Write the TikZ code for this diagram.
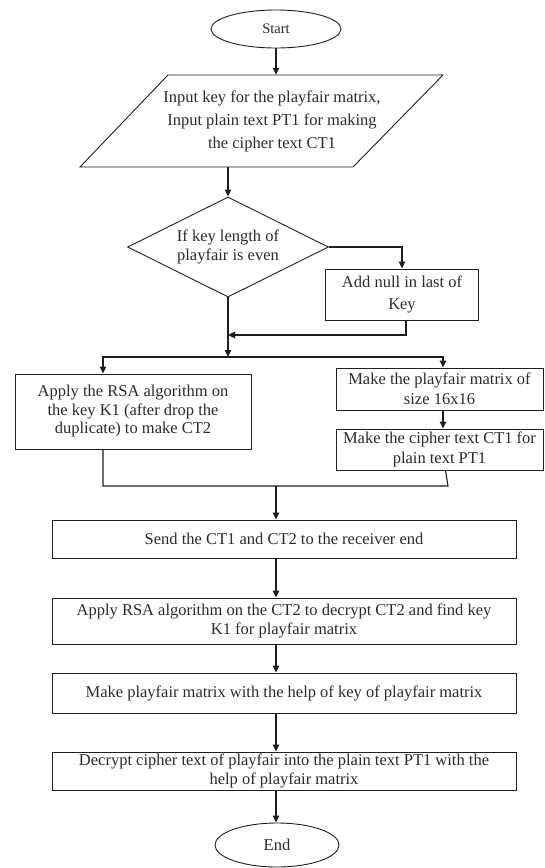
\documentclass[tikz,border=0pt]{standalone}
\usepackage{fontspec}
\setmainfont{Liberation Serif}
\usetikzlibrary{arrows.meta,shapes.geometric}
\definecolor{txt}{HTML}{2B2B2B}
\definecolor{lncol}{HTML}{1E1E1E}
\begin{document}
\begin{tikzpicture}[x=1pt,y=-1pt,
  every node/.style={font=\fontsize{16.5}{19.5}\selectfont, text=txt},
  box/.style={draw=lncol, line width=0.9pt, rectangle, align=center, inner sep=0pt},
  term/.style={draw=lncol, line width=0.9pt, ellipse, inner sep=0pt},
  link/.style={draw=lncol, line width=1.1pt},
  arr/.style={link, -{Triangle[length=7pt,width=6.5pt]}}]
\path[use as bounding box] (0,0) rectangle (545,868);

% start
\node[term, minimum width=130pt, minimum height=38pt, font=\fontsize{14.5}{17}\selectfont] (start) at (276,29) {Start};

% input parallelogram
\draw[draw=lncol, line width=0.9pt] (80,167) -- (353,167) -- (443,75) -- (168,75) -- cycle;
\node[align=center, inner sep=0pt, minimum height=92pt, font=\fontsize{16.5}{23}\selectfont] (input) at (272,121)
  {Input key for the playfair matrix,\\Input plain text PT1 for making\\the cipher text CT1};

% decision
\node[diamond, draw=lncol, line width=0.9pt, aspect=2, minimum width=201pt, minimum height=100pt, inner sep=0pt, align=center] (dec) at (228,247)
  {If key length of\\playfair is even};

\node[box, minimum width=153pt, minimum height=51pt, font=\fontsize{16.5}{22}\selectfont] (add) at (402,294.5) {Add null in last of\\Key};

\node[box, minimum width=236pt, minimum height=75pt, font=\fontsize{16.5}{18.5}\selectfont] (rsa) at (133,411.5)
  {Apply the RSA algorithm on\\the key K1 (after drop the\\duplicate) to make CT2};
\node[box, minimum width=207pt, minimum height=42pt] (pm) at (439.5,389) {Make the playfair matrix of\\size 16x16};
\node[box, minimum width=207pt, minimum height=41pt] (ct1) at (439.5,449.5) {Make the cipher text CT1 for\\plain text PT1};

\node[box, minimum width=464pt, minimum height=38pt] (send) at (284,539) {Send the CT1 and CT2 to the receiver end};
\node[box, minimum width=464pt, minimum height=46pt] (cr) at (284,621)
  {Apply RSA algorithm on the CT2 to decrypt CT2 and find key\\K1 for playfair matrix};
\node[box, minimum width=464pt, minimum height=40pt] (mk) at (284,693) {Make playfair matrix with the help of key of playfair matrix};
\node[box, minimum width=464pt, minimum height=38pt] (dcr) at (284,771)
  {Decrypt cipher text of playfair into the plain text PT1 with the\\help of playfair matrix};

\node[term, minimum width=124pt, minimum height=44pt] (end) at (277,845) {End};

% connectors
\coordinate (m1) at (228,335);
\coordinate (j) at (228,357);
\coordinate (mR) at (448,486);
\coordinate (mC) at (276,486);

\draw[arr] (start) -- (start |- input.north);
\draw[arr] (input.south -| dec.north) -- (dec.north);
\draw[arr] (dec.east) -| (add.north);
\draw[arr] ([xshift=4pt]add.south) |- (m1);
\draw[arr] (dec.south) -- (j);
\draw[arr] (j) -| ([xshift=-30pt]rsa.north);
\draw[arr] (j) -| ([xshift=3.5pt]pm.north);
\draw[arr] ([xshift=3.5pt]pm.south) -- ([xshift=3.5pt]ct1.north);
\draw[link] ([xshift=-30pt]rsa.south) |- (mR) -- ([xshift=6pt]ct1.south);
\draw[arr] (mC) -- (mC |- send.north);
\draw[arr] (send.south -| mC) -- (cr.north -| mC);
\draw[arr] (cr.south -| mC) -- (mk.north -| mC);
\draw[arr] (mk.south -| mC) -- (dcr.north -| mC);
\draw[arr] (dcr.south -| mC) -- (end.north -| mC);
\end{tikzpicture}
\end{document}
